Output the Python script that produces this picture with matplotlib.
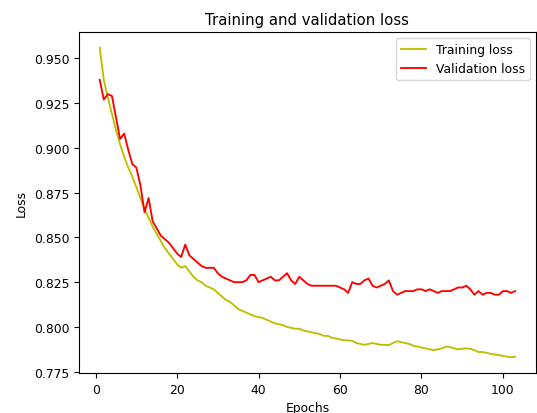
import matplotlib
matplotlib.use("Agg")
import matplotlib.pyplot as plt

# loss par epoch (entrainement / validation)
train_loss = [
    0.956, 0.938, 0.928, 0.919, 0.910, 0.902, 0.895, 0.889, 0.884, 0.878,
    0.872, 0.866, 0.861, 0.856, 0.852, 0.848, 0.844, 0.841, 0.838, 0.835,
    0.833, 0.834, 0.831, 0.828, 0.826, 0.825, 0.823, 0.822, 0.821, 0.819,
    0.817, 0.815, 0.814, 0.812, 0.810, 0.809, 0.808, 0.807, 0.806, 0.8055,
    0.805, 0.804, 0.803, 0.802, 0.8015, 0.801, 0.800, 0.7995, 0.799, 0.799,
    0.798, 0.7975, 0.797, 0.7965, 0.796, 0.795, 0.795, 0.794, 0.7935, 0.793,
    0.7925, 0.7925, 0.7922, 0.791, 0.7905, 0.790, 0.7905, 0.791, 0.7905, 0.790,
    0.790, 0.7898, 0.791, 0.792, 0.7915, 0.791, 0.7905, 0.7895, 0.789, 0.7885,
    0.788, 0.7875, 0.787, 0.7875, 0.788, 0.789, 0.7888, 0.788, 0.7875, 0.7878,
    0.788, 0.7878, 0.787, 0.786, 0.786, 0.7855, 0.785, 0.7846, 0.7843, 0.7838,
    0.7834, 0.7830, 0.7834,
]
val_loss = [
    0.938, 0.927, 0.930, 0.929, 0.917, 0.905, 0.908, 0.899, 0.891, 0.889,
    0.879, 0.864, 0.872, 0.859, 0.855, 0.851, 0.849, 0.847, 0.844, 0.841,
    0.839, 0.846, 0.840, 0.838, 0.836, 0.834, 0.833, 0.833, 0.833, 0.830,
    0.828, 0.827, 0.826, 0.825, 0.825, 0.825, 0.826, 0.829, 0.829, 0.825,
    0.826, 0.827, 0.828, 0.826, 0.826, 0.828, 0.830, 0.826, 0.824, 0.828,
    0.826, 0.824, 0.823, 0.823, 0.823, 0.823, 0.823, 0.823, 0.823, 0.822,
    0.821, 0.819, 0.825, 0.824, 0.824, 0.826, 0.827, 0.823, 0.822, 0.823,
    0.824, 0.826, 0.820, 0.818, 0.819, 0.820, 0.820, 0.820, 0.821, 0.821,
    0.820, 0.821, 0.820, 0.819, 0.820, 0.820, 0.820, 0.821, 0.822, 0.822,
    0.823, 0.821, 0.818, 0.820, 0.818, 0.819, 0.819, 0.818, 0.818, 0.820,
    0.820, 0.819, 0.820,
]
epochs = list(range(1, len(train_loss) + 1))

plt.rcParams['font.family'] = 'DejaVu Sans'
plt.rcParams['font.size'] = 8.9

fig = plt.figure(figsize=(5.37, 4.14), dpi=100)
ax = fig.add_axes([0.147, 0.097, 0.851, 0.823])

ax.plot(epochs, train_loss, 'y', linewidth=1.35, label='Training loss')
ax.plot(epochs, val_loss, 'r', linewidth=1.35, label='Validation loss')

ax.set_title('Training and validation loss', fontsize=10.7)
ax.set_xlabel('Epochs')
ax.set_ylabel('Loss')
ax.legend()

fig.savefig("out.png", dpi=100)
